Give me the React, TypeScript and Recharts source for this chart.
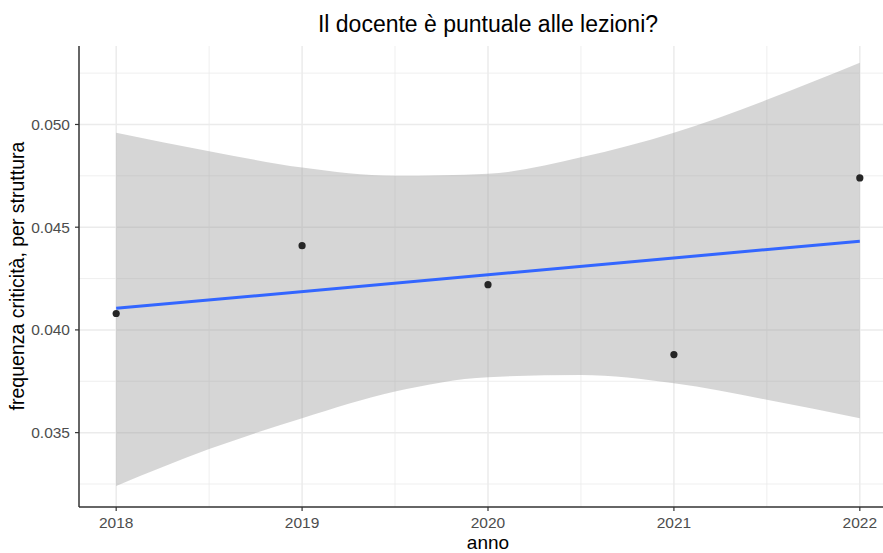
import type { FC } from 'react';
import {
  ComposedChart,
  Area,
  Line,
  Scatter,
  XAxis,
  YAxis,
  CartesianGrid,
} from 'recharts';

// observed yearly values
const years = [2018, 2019, 2020, 2021, 2022];
const critValues = [0.0408, 0.0441, 0.0422, 0.0388, 0.0474];

// lm fit line, read at the two ends
const fitYears = [2018, 2022];
const fitValues = [0.04105, 0.04432];

// confidence band, read every half year
const bandYears = [2018, 2018.5, 2019, 2019.5, 2020, 2020.5, 2021, 2021.5, 2022];
const bandLow = [0.0324, 0.0342, 0.0357, 0.037, 0.0377, 0.0378, 0.0374, 0.0366, 0.0357];
const bandHigh = [0.0496, 0.0487, 0.0479, 0.0475, 0.0476, 0.0484, 0.0496, 0.0512, 0.053];

const yTicks = [0.035, 0.04, 0.045, 0.05];
const yMinor = [0.0325, 0.0375, 0.0425, 0.0475, 0.0525];
const xMinor = [2018.5, 2019.5, 2020.5, 2021.5];

const pointData = years.map((year, i) => ({ year, crit: critValues[i] }));
const fitData = fitYears.map((year, i) => ({ year, fit: fitValues[i] }));
const bandData = bandYears.map((year, i) => ({ year, low: bandLow[i], high: bandHigh[i] }));

const font = '"Liberation Sans", Arial, sans-serif';
const tickStyle = { fill: '#4D4D4D', fontSize: 15.5, fontFamily: font };

const Dot = (props: any) => (
  <circle cx={props.cx} cy={props.cy} r={3.6} fill="#262626" />
);

const App: FC = () => {
  return (
    <div
      style={{
        position: 'absolute',
        left: 0,
        top: 0,
        width: 883,
        height: 553,
        overflow: 'hidden',
        background: '#fff',
        fontFamily: font,
      }}
    >
      <ComposedChart
        width={905}
        height={553}
        margin={{ top: 46, right: 8, bottom: 0, left: 0 }}
      >
        <CartesianGrid
          stroke="#EBEBEB"
          strokeWidth={0.8}
          horizontalValues={yMinor}
          verticalValues={xMinor}
        />
        <CartesianGrid
          stroke="#EBEBEB"
          strokeWidth={1.5}
          horizontalValues={yTicks}
          verticalValues={years}
        />
        <XAxis
          type="number"
          dataKey="year"
          domain={[2017.8, 2022.2]}
          ticks={years}
          allowDataOverflow
          height={46}
          tickSize={4}
          tickMargin={6}
          tick={tickStyle}
          axisLine={{ stroke: '#333', strokeWidth: 1.5 }}
          tickLine={{ stroke: '#333', strokeWidth: 1.2 }}
        />
        <XAxis
          xAxisId="top"
          orientation="top"
          type="number"
          dataKey="year"
          domain={[2017.8, 2022.2]}
          height={0}
          tick={false}
          tickLine={false}
          axisLine={{ stroke: '#333', strokeWidth: 1.5 }}
        />
        <YAxis
          type="number"
          domain={[0.03138, 0.05382]}
          ticks={yTicks}
          allowDataOverflow
          width={79}
          tickSize={4}
          tickMargin={5}
          tick={tickStyle}
          tickFormatter={(v: number) => v.toFixed(3)}
          axisLine={{ stroke: '#333', strokeWidth: 1.5 }}
          tickLine={{ stroke: '#333', strokeWidth: 1.2 }}
        />
        <Area
          data={bandData}
          dataKey={(d: any) => [d.low, d.high]}
          type="monotone"
          fill="#999999"
          fillOpacity={0.4}
          stroke="none"
          isAnimationActive={false}
        />
        <Line
          data={fitData}
          dataKey="fit"
          stroke="#3366FF"
          strokeWidth={3}
          dot={false}
          activeDot={false}
          isAnimationActive={false}
        />
        <Scatter
          data={pointData}
          dataKey="crit"
          shape={Dot}
          isAnimationActive={false}
        />
      </ComposedChart>

      <div
        style={{
          position: 'absolute',
          left: 288,
          width: 400,
          top: 13,
          textAlign: 'center',
          fontSize: 23,
          lineHeight: '23px',
          color: '#000',
          whiteSpace: 'nowrap',
        }}
      >
        Il docente è puntuale alle lezioni?
      </div>
      <div
        style={{
          position: 'absolute',
          left: 388,
          width: 200,
          top: 533,
          textAlign: 'center',
          fontSize: 19,
          lineHeight: '19px',
          color: '#000',
        }}
      >
        anno
      </div>
      <div
        style={{
          position: 'absolute',
          left: 17 - 200,
          top: 276 - 10,
          width: 400,
          height: 20,
          lineHeight: '20px',
          textAlign: 'center',
          fontSize: 19.5,
          color: '#000',
          whiteSpace: 'nowrap',
          transform: 'rotate(-90deg)',
        }}
      >
        frequenza criticità, per struttura
      </div>
    </div>
  );
};

export default App;
